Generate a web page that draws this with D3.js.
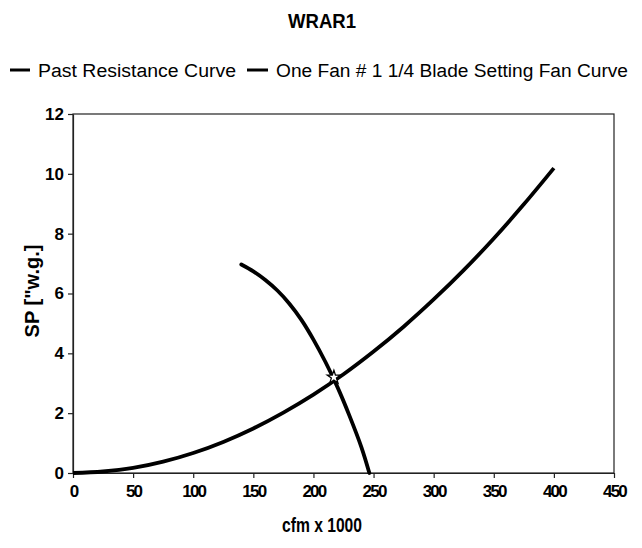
<!DOCTYPE html>
<html>
<head>
<meta charset="utf-8">
<script src="https://cdn.jsdelivr.net/npm/d3@7"></script>
<style>
  body { margin: 0; background: #fff; }
  text { font-family: "Liberation Sans", Arial, sans-serif; fill: #000; }
</style>
</head>
<body>
<svg id="viz" width="642" height="548"></svg>
<script>
// resistance curve (cfm x 1000, SP)
var resCfm = [0, 25, 50, 75, 100, 125, 150, 175, 200, 225, 250, 275, 300, 325, 350, 375, 400];
var resSp = [0, 0.05, 0.17, 0.38, 0.67, 1.04, 1.49, 2.02, 2.62, 3.3, 4.06, 4.89, 5.8, 6.78, 7.84, 8.98, 10.19];

// fan curve
var fanCfm = [140, 150, 160, 170, 180, 190, 200, 210, 220, 230, 240, 246.5];
var fanSp = [6.97, 6.74, 6.45, 6.1, 5.66, 5.12, 4.46, 3.71, 2.87, 1.91, 0.85, 0.0];

// operating point
var opCfm = [217];
var opSp = [3.2];

var xTicks = [0, 50, 100, 150, 200, 250, 300, 350, 400, 450];
var yTicks = [0, 2, 4, 6, 8, 10, 12];
var seriesNames = ["Past Resistance Curve", "One Fan # 1 1/4 Blade Setting Fan Curve"];

var svg = d3.select("#viz");
var margin = { top: 114, left: 73, bottom: 75, right: 28 };
var width = 642 - margin.left - margin.right;
var height = 548 - margin.top - margin.bottom;

var x = d3.scaleLinear().domain([0, 450]).range([0, width]);
var y = d3.scaleLinear().domain([0, 12]).range([height, 0]);

var chart = svg
  .append("g")
  .attr("transform", "translate(" + margin.left + "," + margin.top + ")");

// frame
chart
  .append("rect")
  .attr("width", width)
  .attr("height", height)
  .attr("fill", "none")
  .attr("stroke", "#222")
  .attr("stroke-width", 1.2);

// x axis
var xAxis = chart
  .append("g")
  .attr("transform", "translate(0," + height + ")")
  .call(d3.axisBottom(x).tickValues(xTicks).tickSize(5).tickSizeOuter(0));
xAxis.selectAll("text")
  .attr("dy", "0.95em")
  .style("font-size", "17px")
  .style("font-weight", "bold")
  .style("letter-spacing", "-1.8px");

// y axis
var yAxis = chart
  .append("g")
  .call(d3.axisLeft(y).tickValues(yTicks).tickSize(5).tickSizeOuter(0));
yAxis.selectAll("text")
  .attr("x", -9)
  .style("font-size", "17px")
  .style("font-weight", "bold");

chart.selectAll(".domain").attr("stroke", "#222").attr("stroke-width", 1.2);
chart.selectAll(".tick line").attr("stroke", "#222").attr("stroke-width", 1.2);

var line = d3
  .line()
  .x(function (d) { return x(d[0]); })
  .y(function (d) { return y(d[1]); })
  .curve(d3.curveCatmullRom.alpha(0.5));

var resData = resCfm.map(function (c, i) { return [c, resSp[i]]; });
var fanData = fanCfm.map(function (c, i) { return [c, fanSp[i]]; });

chart
  .append("path")
  .datum(resData)
  .attr("fill", "none")
  .attr("stroke", "#000")
  .attr("stroke-width", 3.8)
  .attr("d", line);

chart
  .append("path")
  .datum(fanData)
  .attr("fill", "none")
  .attr("stroke", "#000")
  .attr("stroke-width", 3.8)
  .attr("stroke-linecap", "round")
  .attr("d", line);

// operating point marker
chart
  .selectAll(".op")
  .data(opCfm)
  .enter()
  .append("path")
  .attr("transform", function (d, i) {
    return "translate(" + x(d) + "," + y(opSp[i]) + ")";
  })
  .attr("d", d3.symbol().type(d3.symbolStar).size(55))
  .attr("fill", "#fff")
  .attr("stroke", "#000")
  .attr("stroke-width", 1.3);

// title
svg
  .append("text")
  .attr("x", 322)
  .attr("y", 28)
  .attr("text-anchor", "middle")
  .attr("textLength", 68)
  .attr("lengthAdjust", "spacingAndGlyphs")
  .style("font-size", "21px")
  .style("font-weight", "bold")
  .text("WRAR1");

// legend
var legend = [
  { x1: 10, x2: 30, tx: 38, tw: 198 },
  { x1: 247, x2: 268, tx: 276, tw: 352 },
];
legend.forEach(function (l, i) {
  svg
    .append("line")
    .attr("x1", l.x1)
    .attr("x2", l.x2)
    .attr("y1", 70)
    .attr("y2", 70)
    .attr("stroke", "#000")
    .attr("stroke-width", 3);
  svg
    .append("text")
    .attr("x", l.tx)
    .attr("y", 77)
    .attr("textLength", l.tw)
    .attr("lengthAdjust", "spacingAndGlyphs")
    .style("font-size", "18px")
    .text(seriesNames[i]);
});

// x axis label
svg
  .append("text")
  .attr("x", 322)
  .attr("y", 532)
  .attr("text-anchor", "middle")
  .attr("textLength", 80)
  .attr("lengthAdjust", "spacingAndGlyphs")
  .style("font-size", "20px")
  .style("font-weight", "bold")
  .text("cfm x 1000");

// y axis label
svg
  .append("text")
  .attr("transform", "translate(39,291) rotate(-90)")
  .attr("text-anchor", "middle")
  .style("font-size", "20px")
  .style("font-weight", "bold")
  .text("SP [\"w.g.]");
</script>
</body>
</html>
